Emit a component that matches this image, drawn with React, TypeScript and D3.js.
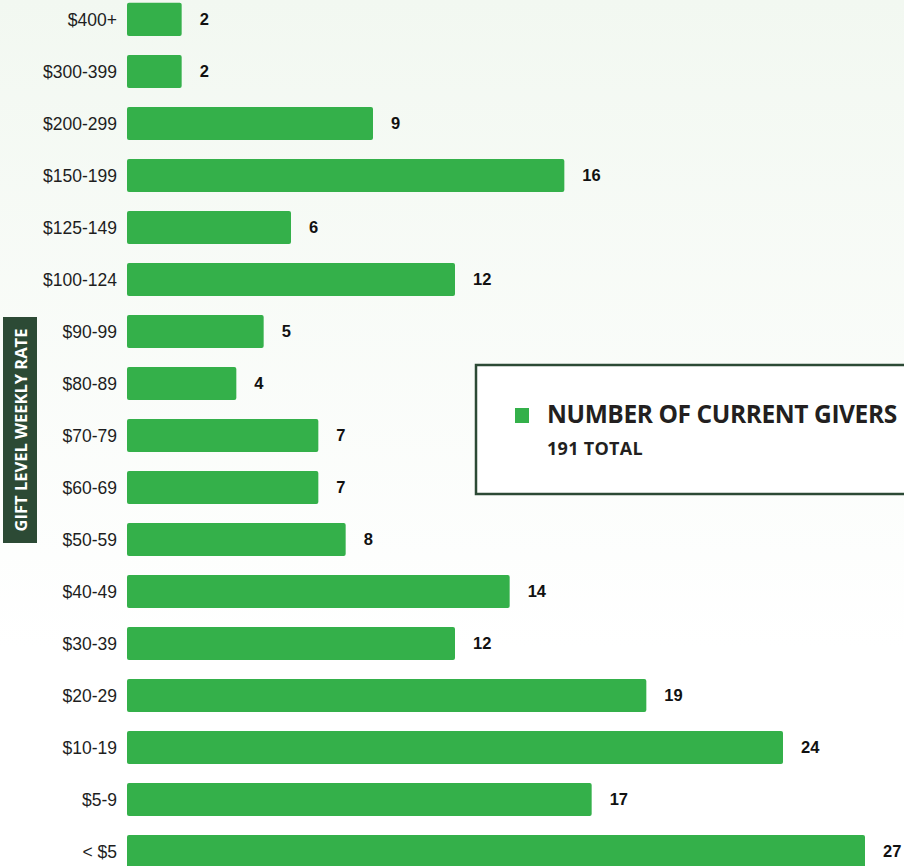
import React from "react";
import * as d3 from "d3";

const categories = [
  "$400+", "$300-399", "$200-299", "$150-199", "$125-149", "$100-124",
  "$90-99", "$80-89", "$70-79", "$60-69", "$50-59", "$40-49",
  "$30-39", "$20-29", "$10-19", "$5-9", "< $5",
];
const givers = [2, 2, 9, 16, 6, 12, 5, 4, 7, 7, 8, 14, 12, 19, 24, 17, 27];
const legendTitle = "NUMBER OF CURRENT GIVERS";
const legendSub = "191 TOTAL";
const axisTitle = "GIFT LEVEL WEEKLY RATE";

const W = 904;
const H = 866;
const GREEN = "#34b04a";
const DARK = "#2c4a35";

export default function App() {
  const x = d3.scaleLinear().domain([0, 27]).range([127, 865]);
  const y = d3
    .scaleBand<string>()
    .domain(categories)
    .range([-6.5, 877.5])
    .paddingInner(0.365)
    .paddingOuter(0.18);
  const bh = y.bandwidth();

  return (
    <svg
      width={W}
      height={H}
      style={{ position: "absolute", left: 0, top: 0, display: "block" }}
    >
      <defs>
        <linearGradient id="bg" x1="0" y1="0" x2="0" y2="1">
          <stop offset="0" stopColor="#f2f8f1" />
          <stop offset="0.75" stopColor="#ffffff" />
          <stop offset="1" stopColor="#ffffff" />
        </linearGradient>
      </defs>
      <rect x={0} y={0} width={W} height={H} fill="url(#bg)" />
      {categories.map((c, i) => {
        const y0 = y(c) as number;
        const cy = y0 + bh / 2;
        return (
          <g key={c}>
            <rect
              x={x(0)}
              y={y0}
              width={x(givers[i]) - x(0)}
              height={bh}
              rx={2}
              fill={GREEN}
            />
            <text
              x={117}
              y={cy}
              dy="0.35em"
              textAnchor="end"
              fontFamily="Liberation Sans, Arial, sans-serif"
              fontSize={17.5}
              fill="#1e1e1e"
            >
              {c}
            </text>
            <text
              x={x(givers[i]) + 18}
              y={cy}
              dy="0.35em"
              fontFamily="Liberation Sans, Arial, sans-serif"
              fontSize={16.5}
              fontWeight="bold"
              fill="#111"
            >
              {givers[i]}
            </text>
          </g>
        );
      })}
      <rect x={3} y={317} width={34} height={226} fill={DARK} />
      <text
        transform="translate(27,430) rotate(-90)"
        textAnchor="middle"
        fontFamily="Open Sans, sans-serif"
        fontWeight="bold"
        fontSize={16.5}
        fill="#ffffff"
      >
        {axisTitle}
      </text>
      <rect
        x={476}
        y={365}
        width={440}
        height={129}
        fill="#ffffff"
        stroke={DARK}
        strokeWidth={2.5}
      />
      <rect x={515} y={408} width={14} height={15} fill={GREEN} />
      <text
        x={547}
        y={423}
        fontFamily="Open Sans, sans-serif"
        fontWeight="bold"
        fontSize={24.5}
        letterSpacing={-0.4}
        fill="#231f20"
      >
        {legendTitle}
      </text>
      <text
        x={547}
        y={455}
        fontFamily="Open Sans, sans-serif"
        fontWeight="bold"
        fontSize={18}
        letterSpacing={0.3}
        fill="#231f20"
      >
        {legendSub}
      </text>
    </svg>
  );
}
